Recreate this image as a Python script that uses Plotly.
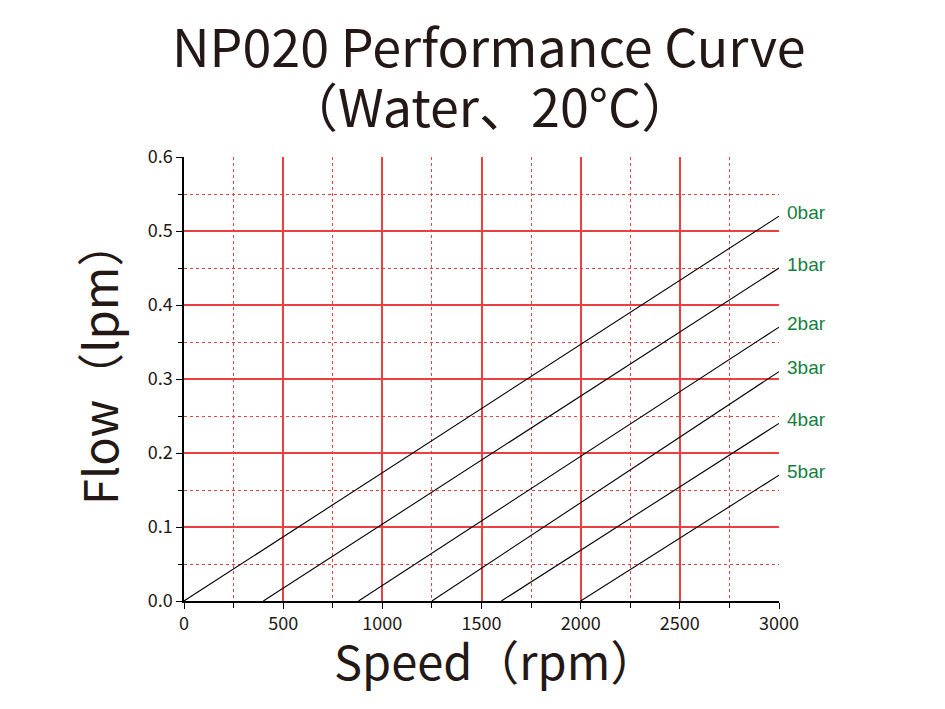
import plotly.graph_objects as go

pressures = ["0bar", "1bar", "2bar", "3bar", "4bar", "5bar"]
start_speed = [0, 400, 880, 1250, 1600, 2000]
end_speed = [3000, 3000, 3000, 3000, 3000, 3000]
end_flow = [0.52, 0.45, 0.37, 0.31, 0.24, 0.17]

x_ticks = [0, 500, 1000, 1500, 2000, 2500, 3000]
y_ticks = [0.0, 0.1, 0.2, 0.3, 0.4, 0.5, 0.6]
y_labels = ["0.0", "0.1", "0.2", "0.3", "0.4", "0.5", "0.6"]

GRID = "#ec4040"
CJK = "Noto Sans CJK SC"
DARK = "#231815"

fig = go.Figure()
for name, x0, x1, y1 in zip(pressures, start_speed, end_speed, end_flow):
    fig.add_trace(go.Scatter(x=[x0, x1], y=[0, y1], mode="lines",
                             line=dict(color="black", width=1.1),
                             name=name, showlegend=False, hoverinfo="skip"))
    fig.add_annotation(x=x1, y=y1, text=name, showarrow=False,
                       xanchor="left", yanchor="middle", xshift=6, yshift=4,
                       font=dict(family="Liberation Sans", size=19, color="#148040"))

fig.add_annotation(xref="paper", yref="paper", x=0.513, y=1, yshift=113,
                   text="NP020 Performance Curve", showarrow=False,
                   xanchor="center", yanchor="middle",
                   font=dict(family=CJK, size=52, color=DARK))
fig.add_annotation(xref="paper", yref="paper", x=0.513, y=1, yshift=53,
                   text="（Water、20°C）", showarrow=False,
                   xanchor="center", yanchor="middle",
                   font=dict(family=CJK, size=52, color=DARK))
# axis titles
fig.add_annotation(xref="paper", yref="paper", x=0.5227, y=0, yshift=-58,
                   text="Speed（rpm）", showarrow=False,
                   xanchor="center", yanchor="middle",
                   font=dict(family=CJK, size=47, color=DARK))
fig.add_annotation(xref="paper", yref="paper", x=0, y=0.536, xshift=-(184 - 97),
                   text="Flow（lpm）", showarrow=False, textangle=-90,
                   xanchor="center", yanchor="middle",
                   font=dict(family=CJK, size=47, color=DARK))

fig.update_layout(
    template="none",
    width=945, height=709,
    margin=dict(l=176, r=174, t=149, b=116),
    paper_bgcolor="white", plot_bgcolor="white",
    xaxis=dict(range=[0, 3000], tickvals=x_ticks, ticks="outside", ticklen=6,
               tickcolor="black", tickwidth=1.2, showline=True, linecolor="black",
               linewidth=1.5, showgrid=True, gridcolor=GRID, gridwidth=2,
               zeroline=False,
               tickfont=dict(family=CJK, size=18, color=DARK),
               minor=dict(dtick=250, tick0=0, ticks="outside", ticklen=5,
                          tickcolor="black", tickwidth=1.2,
                          showgrid=True, gridcolor=GRID, griddash="dot", gridwidth=1)),
    yaxis=dict(range=[0, 0.6], tickvals=y_ticks, ticktext=y_labels, ticks="outside",
               ticklen=6, tickcolor="black", tickwidth=1.2, showline=True,
               linecolor="black", linewidth=1.5, showgrid=True, gridcolor=GRID,
               gridwidth=2, zeroline=False,
               tickfont=dict(family=CJK, size=18, color=DARK),
               minor=dict(dtick=0.05, tick0=0, ticks="outside", ticklen=4,
                          tickcolor="black", tickwidth=1.2,
                          showgrid=True, gridcolor=GRID, griddash="dot", gridwidth=1)),
)

fig.write_html("out.html")
